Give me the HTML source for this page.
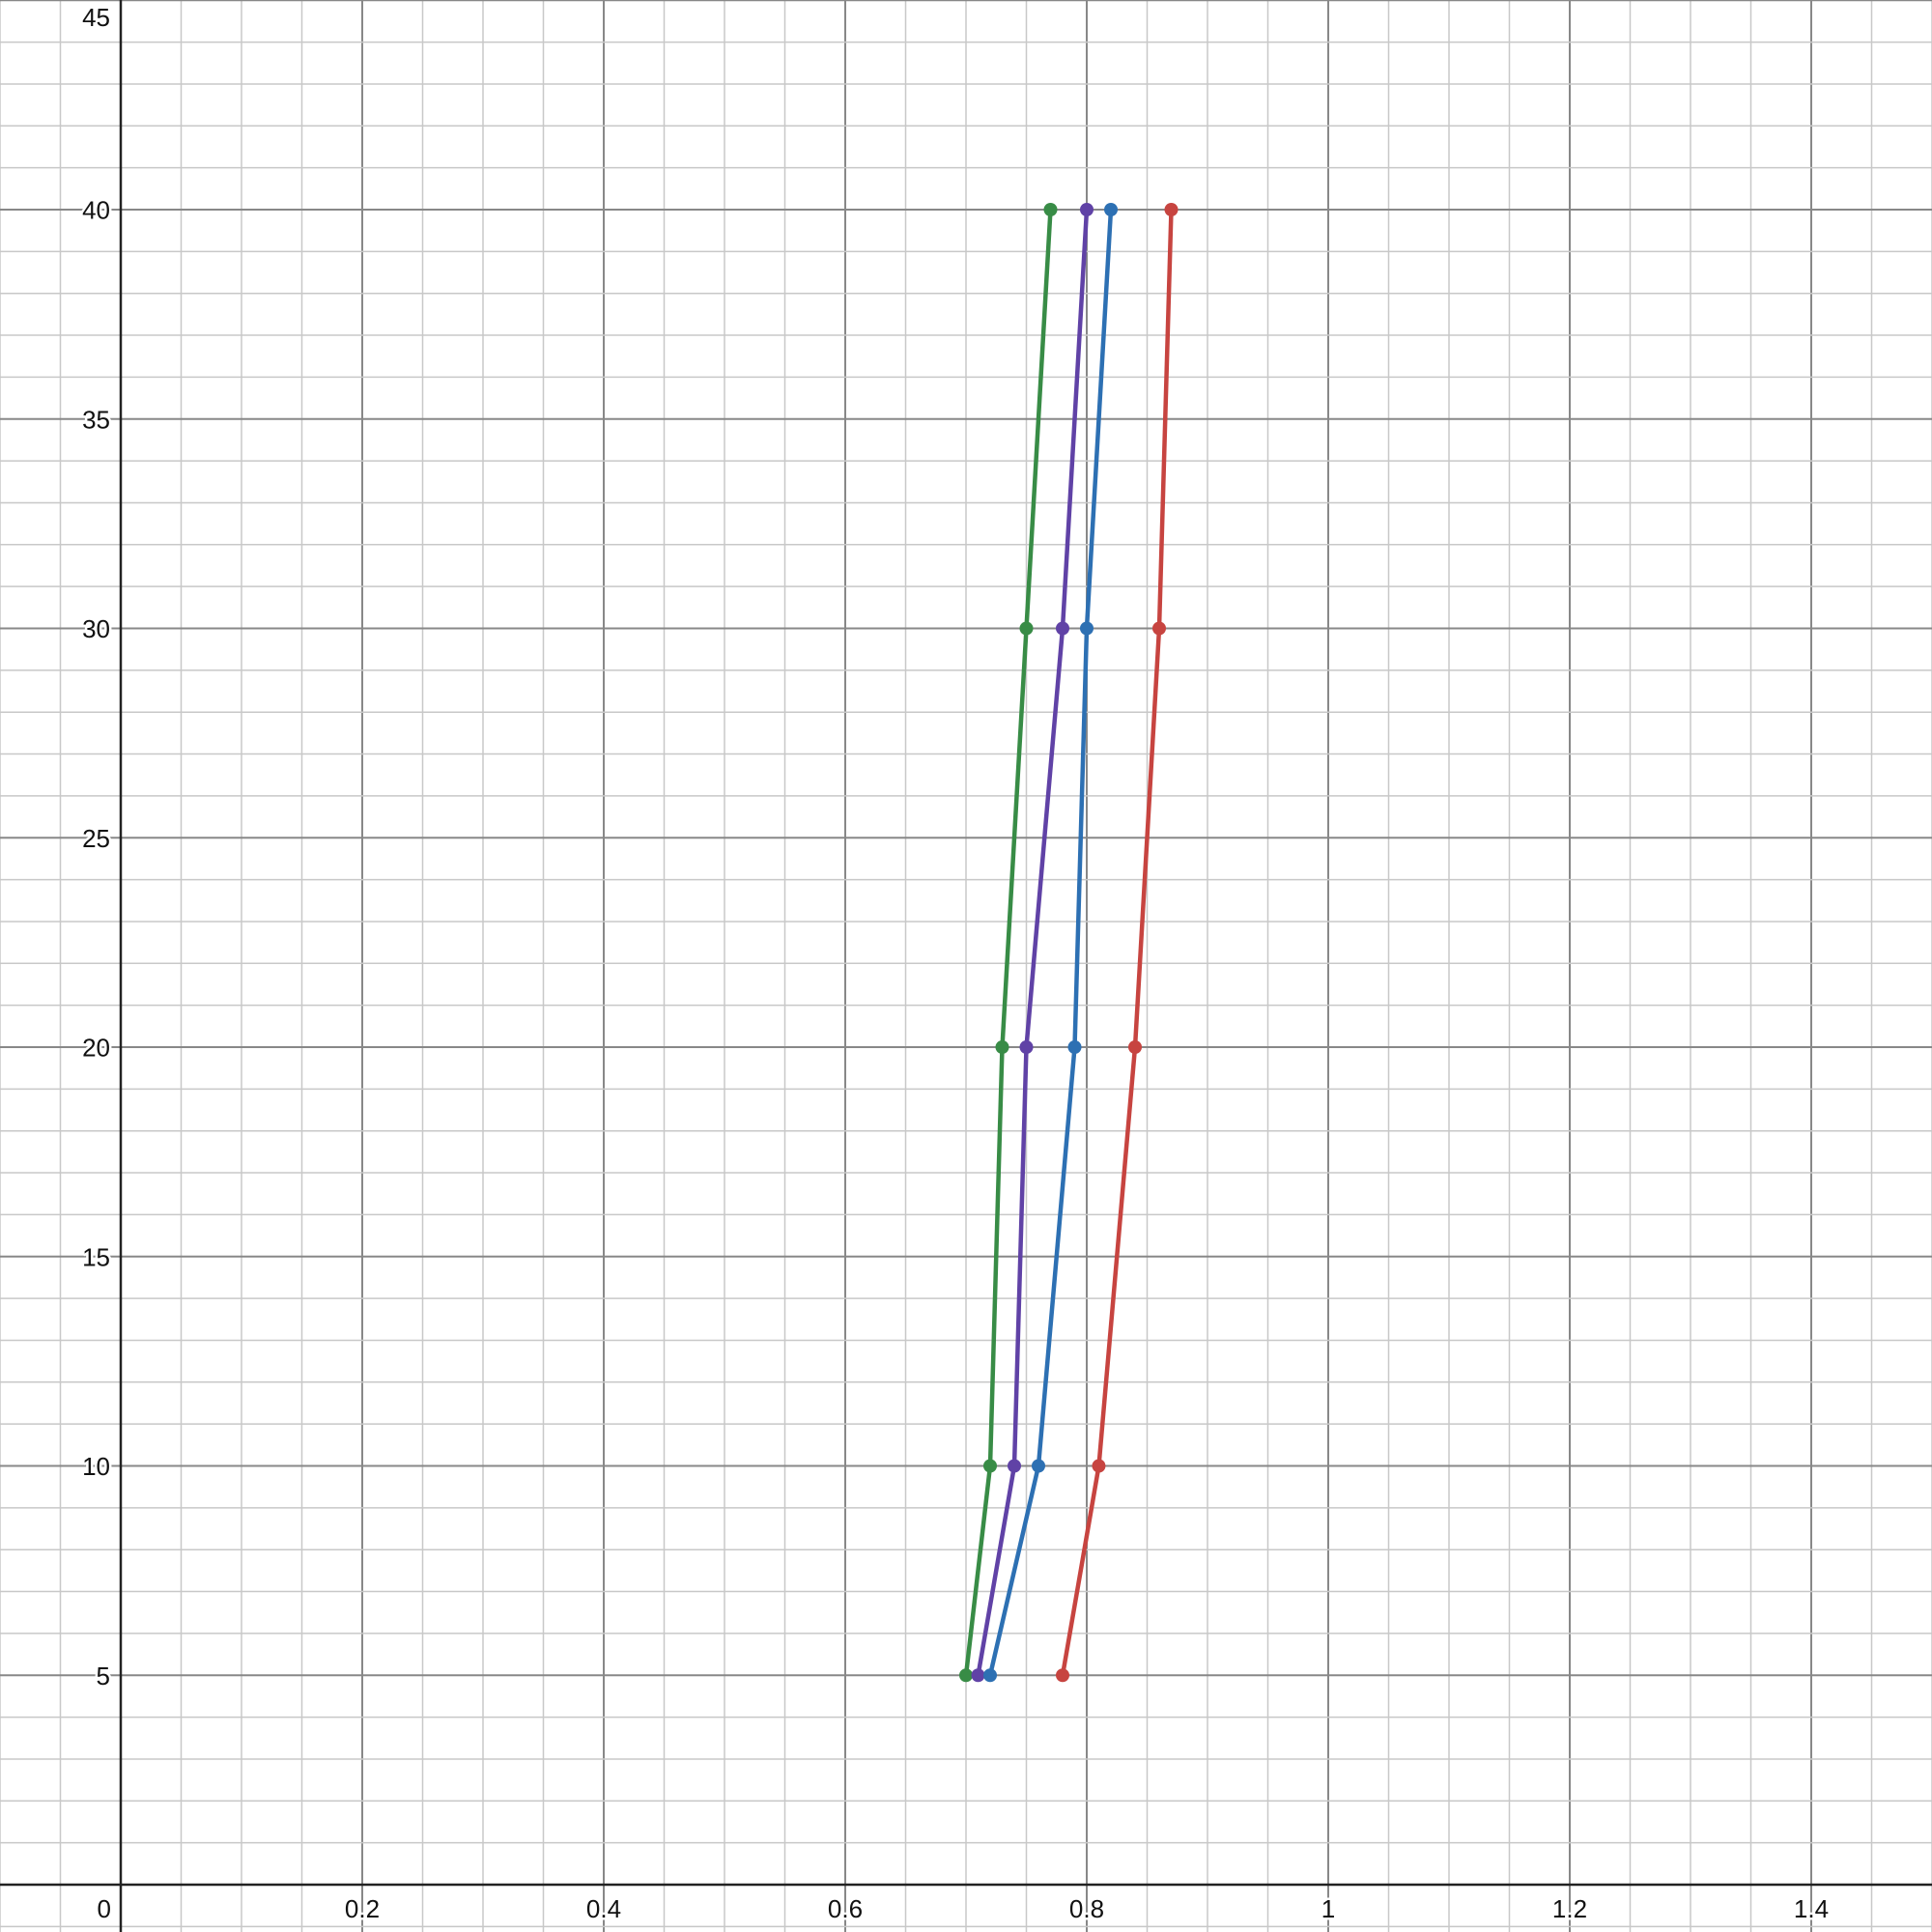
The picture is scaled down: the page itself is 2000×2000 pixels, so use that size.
<!DOCTYPE html>
<html><head><meta charset="utf-8"><style>
html,body{margin:0;padding:0;background:#fff;}
svg{display:block;font-family:"Liberation Sans",sans-serif;}
text{paint-order:stroke;stroke:#fff;stroke-width:5px;stroke-linejoin:round;}
</style></head><body>
<svg id="chart" width="2000" height="2000" viewBox="0 0 2000 2000"></svg>
<script>
const xTicks=[0.2,0.4,0.6,0.8,1,1.2,1.4];
const xTickLabels=["0.2","0.4","0.6","0.8","1","1.2","1.4"];
const yTicks=[5,10,15,20,25,30,35,40,45];
const yTickLabels=["5","10","15","20","25","30","35","40","45"];
const yCategories=[5,10,20,30,40];
const greenX=[0.70,0.72,0.73,0.75,0.77];
const purpleX=[0.71,0.74,0.75,0.78,0.80];
const blueX=[0.72,0.76,0.79,0.80,0.82];
const redX=[0.78,0.81,0.84,0.86,0.87];

const X0=125,XS=1250,Y0=1951,YS=43.35;
const sx=v=>X0+v*XS, sy=v=>Y0-v*YS;
const svg=document.getElementById('chart');
const NS='http://www.w3.org/2000/svg';
function mk(t,a){const e=document.createElementNS(NS,t);for(const k in a)e.setAttribute(k,a[k]);svg.appendChild(e);return e;}

for(let i=-2;i<=30;i++){const v=i*0.05;const x=sx(v);if(x<0||x>2000)continue;
 const major=i%4===0;
 const l=mk('line',{x1:x,y1:0,x2:x,y2:2000,stroke:major?'#888':'#c8c8c8','stroke-width':major?2:1.5});
 
 }
for(let j=-1;j<=46;j++){const y=sy(j);if(y<0||y>2000)continue;
 const major=j%5===0;
 const l=mk('line',{x1:0,y1:y,x2:2000,y2:y,stroke:major?'#888':'#c8c8c8','stroke-width':major?2:1.5});
 
 }
const xa=mk('line',{x1:0,y1:Y0,x2:2000,y2:Y0,stroke:'#222','stroke-width':2.5});


const ya=mk('line',{x1:X0,y1:0,x2:X0,y2:2000,stroke:'#222','stroke-width':2.5});



const z=mk('text',{x:X0-10,y:Y0+34,'text-anchor':'end','font-size':26,fill:'#111'});z.textContent='0';


xTicks.forEach((v,i)=>{
 const t=mk('text',{x:sx(v),y:Y0+34,'text-anchor':'middle','font-size':26,fill:'#111'});t.textContent=xTickLabels[i];
 
 });
yTicks.forEach((v,i)=>{
 const y=sy(v);
 const t=mk('text',{x:X0-11,y:Math.max(y+9.5,27),'text-anchor':'end','font-size':26,fill:'#111'});t.textContent=yTickLabels[i];
 
 });

const series=[['green',greenX,'#388c46'],['purple',purpleX,'#6042a6'],['blue',blueX,'#2d70b3'],['red',redX,'#c74440']];
series.forEach(([n,xs,c])=>{
 const pts=xs.map((v,i)=>sx(v)+','+sy(yCategories[i])).join(' ');
 const pl=mk('polyline',{points:pts,fill:'none',stroke:c,'stroke-width':4.5,'stroke-linejoin':'round'});
 
 
 xs.forEach((v,i)=>{
  const p=mk('circle',{cx:sx(v),cy:sy(yCategories[i]),r:7,fill:c});
  
  });
});
</script>
</body></html>
